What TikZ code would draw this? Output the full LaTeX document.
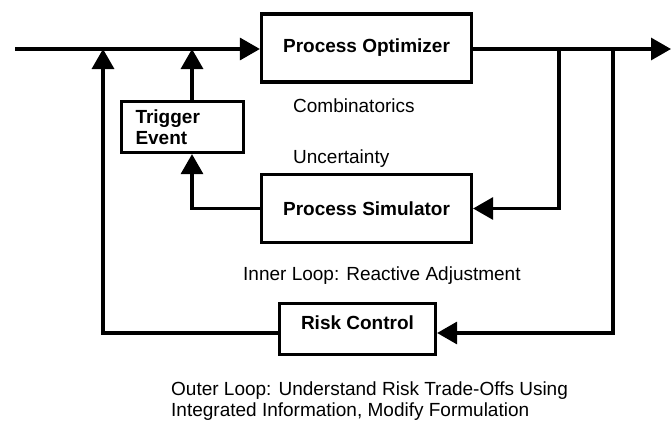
\documentclass[tikz,border=0pt]{standalone}
\usepackage{fontspec}
\setmainfont{Liberation Sans}
\usetikzlibrary{arrows.meta}
\begin{document}
\begin{tikzpicture}[x=1pt,y=-1pt,
  every node/.style={font=\fontsize{19}{21}\selectfont},
  box/.style={draw, line width=3.2pt, inner sep=0pt, font=\fontsize{19}{21}\selectfont\bfseries},
  wire/.style={line width=3.2pt},
  arr/.style={wire, -{Triangle[length=20pt,width=22pt]}},
  lbl/.style={anchor=base west, inner sep=0pt}
]
\useasboundingbox (0,0) rectangle (671,420);
% boxes
\node[box, minimum width=210pt, minimum height=68pt] (opt) at (366.5,48) {Process Optimizer};
\node[box, minimum width=210pt, minimum height=68pt] (sim) at (366.5,208.5) {Process Simulator};
\node[box, minimum height=51pt, text width=94pt, inner xsep=14pt, align=left] (trig) at (182.5,127) {Trigger\\Event};
\node[box, minimum width=156pt, minimum height=51pt] (risk) at (357.5,329) {\raisebox{12pt}{Risk Control}};
% coordinates on the main line
\coordinate (in) at (15,49);
\coordinate (out) at (671,49);
\coordinate (m1) at (192,49);
\coordinate (m2) at (103,49);
\coordinate (j1) at (559,49);
\coordinate (j2) at (613,49);
% connectors
\draw[arr] (in) -- (opt.west |- in);
\draw[arr] (opt.east |- out) -- (out);
\draw[arr] (j1) |- (sim.east);
\draw[arr] (j2) |- ([yshift=-4pt]risk.east);
\draw[arr] (trig.north -| m1) -- (m1);
\draw[arr] (sim.west) -| (trig.south -| m1);
\draw[arr] ([yshift=-4pt]risk.west) -| (m2);
% labels
\node[lbl] (comb) at (293,112) {Combinatorics};
\node[lbl] (unc) at (293,163) {Uncertainty};
\node[lbl] (inner) at (243,280) {Inner Loop: Reactive Adjustment};
\node[anchor=north west, inner sep=0pt, align=left] (outer) at (171,382) {Outer Loop: Understand Risk Trade-Offs Using\\Integrated Information, Modify Formulation};
\end{tikzpicture}
\end{document}
